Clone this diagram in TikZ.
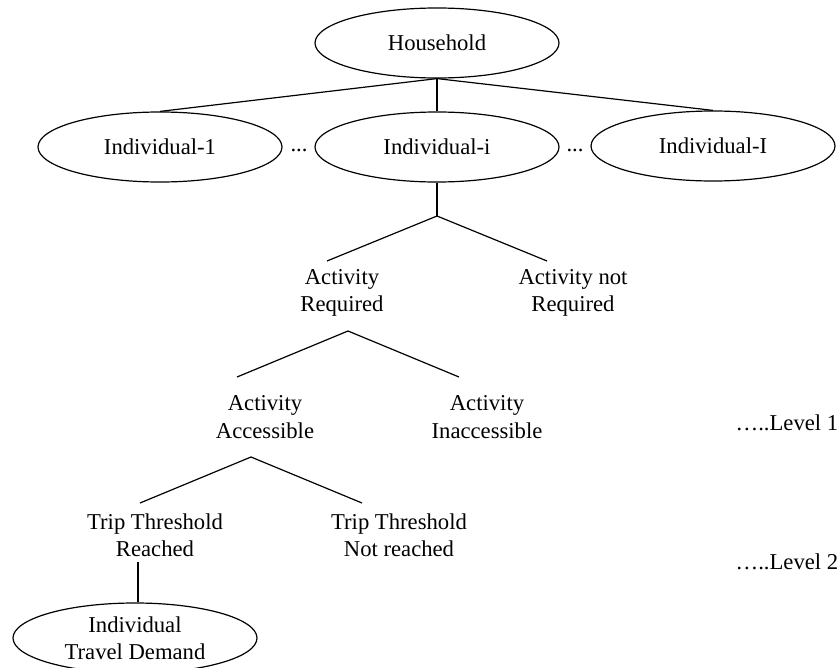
\documentclass[tikz,border=0pt]{standalone}
\usepackage{fontspec}
\setmainfont{Liberation Serif}
\usetikzlibrary{shapes.geometric}
\begin{document}
\begin{tikzpicture}[x=0.75pt,y=-0.75pt,
  font=\fontsize{17}{20.5}\selectfont,
  every path/.style={line width=0.9pt},
  oval/.style={ellipse,draw,inner sep=0pt,minimum width=183pt,minimum height=52.5pt,align=center},
  lbl/.style={align=center,inner sep=0pt},
  branch/.style={draw,line width=0.9pt}]
\useasboundingbox (0,0) rectangle (838,667);

% household and its members
\node[oval] (hh) at (437,43) {Household};
\node[oval] (i1) at (160,147) {Individual-1};
\node[oval] (ii) at (437,147) {Individual-i};
\node[oval] (iI) at (713,146) {Individual-I};
\node[lbl,anchor=base] (d1) at (299,151) {...};
\node[lbl,anchor=base] (d2) at (575,151) {...};

% decision levels
\node[lbl] (ar)  at (342,293) {Activity\\Required};
\node[lbl] (anr) at (573,293) {Activity not\\Required};
\node[lbl] (aa)  at (265,417) {Activity\\Accessible};
\node[lbl] (ai)  at (487,417) {Activity\\Inaccessible};
\node[lbl] (tr)  at (155,535) {Trip Threshold\\Reached};
\node[lbl] (tn)  at (399,535) {Trip Threshold\\Not reached};
\node[oval] (td) at (135,638) {Individual\\Travel Demand};

\node[lbl,anchor=west] (l1) at (735,423) {…..Level 1};
\node[lbl,anchor=west] (l2) at (735,562) {…..Level 2};

% branch points and branch ends
\coordinate (b1) at (437,216);
\coordinate (b1l) at (327,261);
\coordinate (b1r) at (547,261);
\coordinate (b2) at (348,331);
\coordinate (b2l) at (237,377);
\coordinate (b2r) at (459,377);
\coordinate (b3) at (251,457);
\coordinate (b3l) at (140,503);
\coordinate (b3r) at (362,503);
\coordinate (b4) at (138,562);

% connectors
\draw[branch] (hh.south) -- (i1.north);
\draw[branch] (hh.south) -- (ii.north);
\draw[branch] (hh.south) -- (iI.north);
\draw[branch] (ii.south) -- (b1);
\draw[branch] (b1l) -- (b1) -- (b1r);
\draw[branch] (b2l) -- (b2) -- (b2r);
\draw[branch] (b3l) -- (b3) -- (b3r);
\draw[branch] (b4) -- (b4 |- td.north);
\end{tikzpicture}
\end{document}
